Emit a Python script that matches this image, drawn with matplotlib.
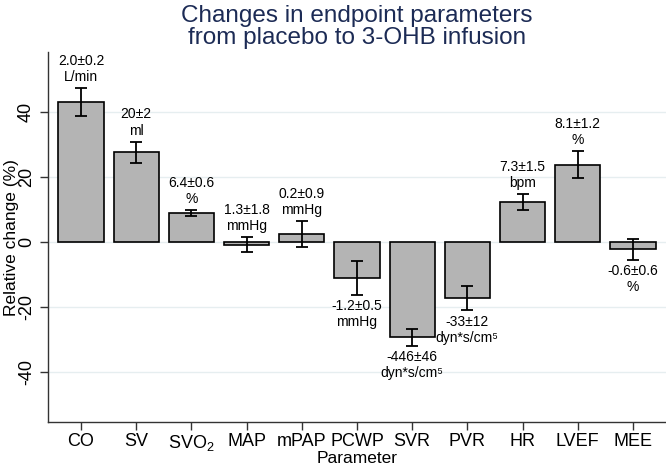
import matplotlib.pyplot as plt
import numpy as np

# Data
params = ['CO', 'SV', 'SVO$_\\mathregular{2}$', 'MAP', 'mPAP', 'PCWP', 'SVR', 'PVR', 'HR', 'LVEF', 'MEE']
rel_change = [43.1, 27.7, 8.9, -0.7, 2.5, -10.9, -29.3, -17.3, 12.3, 23.9, -2.2]  # %
rel_err = [4.3, 3.2, 0.9, 2.2, 4.0, 5.2, 2.5, 3.7, 2.5, 4.2, 3.3]
abs_change = ['2.0±0.2', '20±2', '6.4±0.6', '1.3±1.8', '0.2±0.9', '-1.2±0.5',
              '-446±46', '-33±12', '7.3±1.5', '8.1±1.2', '-0.6±0.6']
units = ['L/min', 'ml', '%', 'mmHg', 'mmHg', 'mmHg',
         'dyn*s/cm⁵', 'dyn*s/cm⁵', 'bpm', '%', '%']

plt.rcParams['font.family'] = ['Liberation Sans', 'DejaVu Sans']

fig = plt.figure(figsize=(6.66, 4.66), dpi=100)
ax = fig.add_axes([0.072, 0.094, 0.928, 0.794])

x = np.arange(len(params))
ax.bar(x, rel_change, width=0.82, color='#b4b4b4', edgecolor='black', linewidth=1.2, zorder=3)
ax.errorbar(x, rel_change, yerr=rel_err, fmt='none', ecolor='black', elinewidth=1.3,
            capsize=4, capthick=1.3, zorder=4)

for xi, v, e, a, u in zip(x, rel_change, rel_err, abs_change, units):
    txt = a + '\n' + u
    if a.startswith('-'):
        ax.annotate(txt, (xi, v - e), xytext=(0, -3), textcoords='offset points',
                    ha='center', va='top', fontsize=10, linespacing=1.2, zorder=5)
    else:
        ax.annotate(txt, (xi, v + e), xytext=(0, 3), textcoords='offset points',
                    ha='center', va='bottom', fontsize=10, linespacing=1.2, zorder=5)

ax.set_xlim(-0.6, 10.6)
ax.set_ylim(-55.4, 58.5)
ax.set_xticks(x)
ax.set_xticklabels(params, fontsize=13)
ax.set_yticks([-40, -20, 0, 20, 40])
ax.set_yticklabels(['-40', '-20', '0', '20', '40'], fontsize=13, rotation=90, va='center')
ax.tick_params(length=6, width=1, color='#333333')
ax.tick_params(axis='x', pad=2)
ax.yaxis.grid(True, color='#e6eef0', linewidth=1, zorder=0)
ax.set_axisbelow(True)
for s in ['top', 'right']:
    ax.spines[s].set_visible(False)
for s in ['left', 'bottom']:
    ax.spines[s].set_color('#333333')
    ax.spines[s].set_linewidth(1)

ax.set_xlabel('Parameter', fontsize=12.5, labelpad=-2)
ax.set_ylabel('Relative change (%)', fontsize=12.5, labelpad=-1)
fig.text(0.536, 0.99, 'Changes in endpoint parameters\nfrom placebo to 3-OHB infusion',
         ha='center', va='top', fontsize=17.5, color='#1c2b55', linespacing=1.0)

fig.savefig('out.png', dpi=100)
